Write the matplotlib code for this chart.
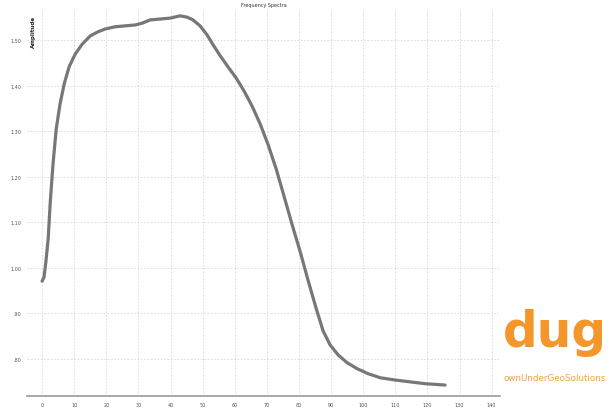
import numpy as np
import matplotlib.pyplot as plt
from matplotlib.patches import Rectangle

# spectrum amplitude vs frequency
freq = [0, 0.6, 1.2, 1.9, 2.5, 3.4, 4.4, 5.6, 6.9, 8.4, 10.3, 12.5, 15.0,
        17.4, 19.6, 22.7, 25.9, 29.0, 31.2, 33.6, 36.8, 39.9, 43.0, 45.2,
        47.0, 49.2, 51.4, 53.3, 55.5, 57.9, 60.4, 62.9, 65.4, 67.9, 70.4,
        72.9, 75.4, 77.9, 80.4, 82.9, 85.4, 87.5, 89.7, 92.2, 95.0, 98.1,
        101.5, 105.3, 110.0, 114.6, 119.3, 125.5]
amp = [0.971, 0.980, 1.015, 1.064, 1.140, 1.228, 1.305, 1.360, 1.404, 1.441,
       1.469, 1.491, 1.509, 1.518, 1.524, 1.529, 1.531, 1.533, 1.537, 1.544,
       1.546, 1.548, 1.553, 1.550, 1.544, 1.531, 1.511, 1.489, 1.465, 1.441,
       1.417, 1.388, 1.355, 1.316, 1.270, 1.217, 1.156, 1.094, 1.035, 0.971,
       0.910, 0.862, 0.831, 0.809, 0.792, 0.779, 0.768, 0.759, 0.754, 0.750,
       0.746, 0.743]

xticks = np.arange(0, 141, 10)
yticks = [0.8, 0.9, 1.0, 1.1, 1.2, 1.3, 1.4, 1.5]
ylabels = ['.80', '.90', '1.00', '1.10', '1.20', '1.30', '1.40', '1.50']

fig = plt.figure(figsize=(6.15, 4.14), dpi=100)
ax = fig.add_axes([27 / 615, 1 - 397 / 414, 473 / 615, 387 / 414])

ax.plot(freq, amp, color='#777777', lw=2.3, solid_capstyle='round',
        solid_joinstyle='round')

ax.set_xlim(-4.7, 142.6)
ax.set_ylim(0.719, 1.568)
ax.set_xticks(xticks)
ax.set_xticklabels([str(t) for t in xticks])
ax.set_yticks(yticks)
ax.set_yticklabels(ylabels)
ax.tick_params(labelsize=3.5, length=0, colors='#555555', pad=4)
ax.grid(True, color='#d8d8d8', lw=0.6, ls=(0, (2, 2)))
for s in ['top', 'right', 'left']:
    ax.spines[s].set_visible(False)
ax.spines['bottom'].set_color('#999999')
ax.spines['bottom'].set_linewidth(1.2)

ax.set_title('Frequency Spectra', fontsize=3.5, pad=2, color='#333333')
ax.text(0.008, 0.985, 'Amplitude', rotation=90, fontsize=4, fontweight='bold',
        transform=ax.transAxes, ha='left', va='top', color='#222222')

# logo block in the lower right corner
fig.patches.append(Rectangle((500 / 615, 20 / 414), 115 / 615, 120 / 414,
                             transform=fig.transFigure, color='white', zorder=5))
fig.text(503 / 615, 1 - 333 / 414, 'dug', fontsize=35, fontweight='bold',
         color='#f5962a', va='center', ha='left', zorder=6)
fig.text(503 / 615, 1 - 379 / 414, 'ownUnderGeoSolutions', fontsize=6.3,
         color='#f5a040', va='center', ha='left', zorder=6)

fig.savefig('out.png', dpi=100)
